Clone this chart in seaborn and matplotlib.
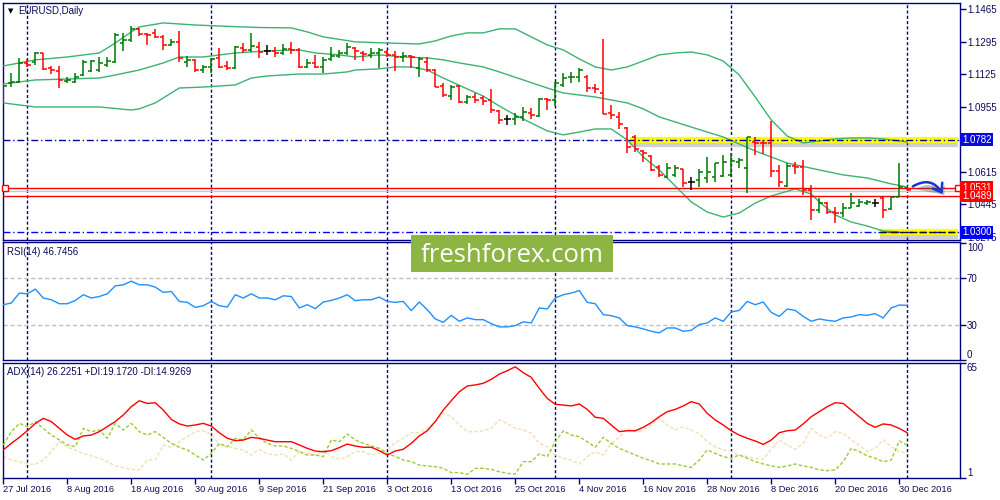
import numpy as np
import matplotlib
matplotlib.use('Agg')
import matplotlib.pyplot as plt
import matplotlib.transforms as mtransforms
import matplotlib.patheffects as pe
from matplotlib.patches import FancyArrowPatch, Rectangle
import seaborn as sns

# --- daily EURUSD bars ---
opens = [1.0991, 1.1081, 1.1086, 1.1182, 1.1191, 1.1234, 1.1156, 1.1144, 1.1090, 1.1086,
         1.1121, 1.1144, 1.1147, 1.1173, 1.1191, 1.1290, 1.1304, 1.1360, 1.1335, 1.1339,
         1.1321, 1.1278, 1.1295, 1.1191, 1.1200, 1.1147, 1.1165, 1.1212, 1.1168, 1.1156,
         1.1260, 1.1252, 1.1269, 1.1247, 1.1247, 1.1234, 1.1255, 1.1252, 1.1165, 1.1186,
         1.1165, 1.1203, 1.1220, 1.1234, 1.1260, 1.1238, 1.1226, 1.1234, 1.1243, 1.1226,
         1.1217, 1.1220, 1.1156, 1.1191, 1.1147, 1.1064, 1.1011, 1.1064, 1.0982, 1.1008,
         1.0999, 1.0991, 1.0935, 1.0890, 1.0890, 1.0903, 1.0921, 1.0907, 1.0994, 1.0991,
         1.1069, 1.1109, 1.1109, 1.1112, 1.1051, 1.1025, 1.0921, 1.0903, 1.0843, 1.0799,
         1.0726, 1.0698, 1.0642, 1.0590, 1.0599, 1.0628, 1.0564, 1.0573, 1.0581, 1.0590,
         1.0593, 1.0599, 1.0668, 1.0633, 1.0773, 1.0768, 1.0768, 1.0621, 1.0541, 1.0646,
         1.0642, 1.0520, 1.0416, 1.0451, 1.0407, 1.0399, 1.0424, 1.0437, 1.0454, 1.0454,
         1.0477, 1.0419, 1.0485, 1.0529]
highs = [1.1069, 1.1130, 1.1208, 1.1203, 1.1243, 1.1238, 1.1168, 1.1170, 1.1112, 1.1130,
         1.1200, 1.1200, 1.1217, 1.1213, 1.1339, 1.1339, 1.1377, 1.1365, 1.1342, 1.1362,
         1.1330, 1.1308, 1.1351, 1.1220, 1.1203, 1.1173, 1.1208, 1.1260, 1.1194, 1.1273,
         1.1287, 1.1342, 1.1295, 1.1278, 1.1269, 1.1283, 1.1292, 1.1260, 1.1203, 1.1226,
         1.1213, 1.1266, 1.1252, 1.1290, 1.1269, 1.1248, 1.1260, 1.1260, 1.1252, 1.1248,
         1.1243, 1.1226, 1.1213, 1.1213, 1.1151, 1.1081, 1.1069, 1.1069, 1.1017, 1.1029,
         1.1011, 1.1046, 1.0938, 1.0912, 1.0921, 1.0952, 1.0947, 1.0999, 1.0999, 1.1086,
         1.1133, 1.1139, 1.1156, 1.1121, 1.1074, 1.1309, 1.0964, 1.0930, 1.0851, 1.0808,
         1.0729, 1.0703, 1.0651, 1.0660, 1.0651, 1.0628, 1.0586, 1.0628, 1.0691, 1.0660,
         1.0703, 1.0712, 1.0686, 1.0799, 1.0799, 1.0781, 1.0883, 1.0651, 1.0660, 1.0668,
         1.0677, 1.0546, 1.0477, 1.0459, 1.0433, 1.0451, 1.0503, 1.0471, 1.0468, 1.0471,
         1.0485, 1.0485, 1.0663, 1.0534]
lows = [1.0970, 1.1060, 1.1081, 1.1165, 1.1173, 1.1147, 1.1126, 1.1051, 1.1078, 1.1078,
        1.1118, 1.1139, 1.1139, 1.1165, 1.1186, 1.1248, 1.1295, 1.1325, 1.1278, 1.1313,
        1.1252, 1.1273, 1.1191, 1.1165, 1.1139, 1.1133, 1.1133, 1.1156, 1.1147, 1.1151,
        1.1238, 1.1243, 1.1208, 1.1226, 1.1213, 1.1226, 1.1231, 1.1156, 1.1156, 1.1156,
        1.1130, 1.1196, 1.1208, 1.1226, 1.1200, 1.1196, 1.1208, 1.1156, 1.1217, 1.1144,
        1.1191, 1.1156, 1.1112, 1.1139, 1.1057, 1.1008, 1.0991, 1.0977, 1.0970, 1.0977,
        1.0964, 1.0921, 1.0865, 1.0860, 1.0860, 1.0883, 1.0890, 1.0903, 1.0938, 1.0959,
        1.1057, 1.1081, 1.1086, 1.1034, 1.1025, 1.0915, 1.0890, 1.0837, 1.0712, 1.0721,
        1.0668, 1.0621, 1.0590, 1.0581, 1.0586, 1.0534, 1.0520, 1.0534, 1.0559, 1.0564,
        1.0586, 1.0590, 1.0633, 1.0506, 1.0703, 1.0708, 1.0586, 1.0538, 1.0534, 1.0604,
        1.0494, 1.0363, 1.0398, 1.0395, 1.0350, 1.0381, 1.0424, 1.0433, 1.0442, 1.0433,
        1.0372, 1.0416, 1.0485, 1.0520]
closes = [1.1064, 1.1086, 1.1182, 1.1173, 1.1234, 1.1151, 1.1147, 1.1095, 1.1095, 1.1109,
          1.1191, 1.1194, 1.1182, 1.1194, 1.1330, 1.1304, 1.1360, 1.1335, 1.1330, 1.1321,
          1.1278, 1.1295, 1.1208, 1.1200, 1.1147, 1.1165, 1.1203, 1.1165, 1.1156, 1.1266,
          1.1252, 1.1273, 1.1243, 1.1247, 1.1234, 1.1255, 1.1252, 1.1165, 1.1186, 1.1165,
          1.1200, 1.1220, 1.1234, 1.1269, 1.1248, 1.1231, 1.1234, 1.1252, 1.1226, 1.1213,
          1.1220, 1.1213, 1.1203, 1.1147, 1.1060, 1.1017, 1.1057, 1.0982, 1.1004, 1.0991,
          1.0987, 1.0938, 1.0886, 1.0890, 1.0900, 1.0930, 1.0912, 1.0994, 1.0991, 1.1078,
          1.1104, 1.1112, 1.1147, 1.1051, 1.1046, 1.0917, 1.0912, 1.0865, 1.0747, 1.0733,
          1.0716, 1.0625, 1.0599, 1.0633, 1.0633, 1.0555, 1.0564, 1.0616, 1.0616, 1.0660,
          1.0668, 1.0672, 1.0677, 1.0795, 1.0764, 1.0764, 1.0621, 1.0564, 1.0646, 1.0642,
          1.0520, 1.0416, 1.0451, 1.0407, 1.0399, 1.0424, 1.0451, 1.0459, 1.0459, 1.0454,
          1.0416, 1.0482, 1.0534, 1.0520]

# --- Bollinger bands, read at sampled bars ---
upper_idx = [0, 4, 8, 12, 14, 16, 17, 20, 24, 28, 32, 36, 38, 40, 44, 48, 52, 54, 56, 58,
             60, 62, 64, 66, 68, 70, 72, 74, 76, 78, 80, 82, 84, 86, 88, 90, 92, 94, 96, 98,
             100, 102, 104, 106, 108, 110, 112, 113]
upper = [1.1168, 1.1200, 1.1215, 1.1236, 1.1288, 1.1346, 1.1372, 1.1393, 1.1382, 1.1375,
         1.1369, 1.1367, 1.1346, 1.1320, 1.1294, 1.1288, 1.1283, 1.1299, 1.1325, 1.1341,
         1.1341, 1.1362, 1.1362, 1.1320, 1.1278, 1.1252, 1.1205, 1.1163, 1.1147, 1.1163,
         1.1194, 1.1226, 1.1236, 1.1241, 1.1226, 1.1194, 1.1121, 1.1006, 1.0886, 1.0802,
         1.0766, 1.0776, 1.0787, 1.0792, 1.0792, 1.0787, 1.0776, 1.0771]
mid_idx = [0, 4, 8, 12, 14, 17, 20, 22, 25, 29, 33, 37, 39, 42, 44, 47, 50, 53, 55, 57,
           60, 62, 65, 68, 70, 74, 78, 80, 82, 86, 90, 94, 98, 102, 105, 108, 111, 113]
middle = [1.1074, 1.1095, 1.1100, 1.1105, 1.1121, 1.1147, 1.1184, 1.1215, 1.1215, 1.1236,
          1.1247, 1.1252, 1.1236, 1.1226, 1.1215, 1.1226, 1.1215, 1.1210, 1.1200, 1.1184,
          1.1163, 1.1137, 1.1095, 1.1053, 1.1027, 1.1006, 1.0975, 1.0944, 1.0902, 1.0849,
          1.0797, 1.0724, 1.0661, 1.0625, 1.0599, 1.0583, 1.0552, 1.0536]
low_idx = [0, 4, 8, 12, 16, 17, 19, 21, 22, 25, 29, 31, 33, 37, 40, 43, 44, 47, 49, 51,
           53, 55, 58, 60, 62, 64, 66, 68, 70, 72, 74, 76, 78, 80, 82, 84, 86, 88, 90, 92,
           94, 96, 99, 101, 102, 104, 106, 108, 110, 112]
lower = [1.0975, 1.0954, 1.0954, 1.0954, 1.0938, 1.0944, 1.0975, 1.1027, 1.1053, 1.1058,
         1.1069, 1.1105, 1.1116, 1.1126, 1.1126, 1.1137, 1.1147, 1.1153, 1.1163, 1.1163,
         1.1147, 1.1105, 1.1048, 1.1011, 1.0959, 1.0912, 1.0870, 1.0829, 1.0808, 1.0823,
         1.0839, 1.0839, 1.0782, 1.0693, 1.0625, 1.0541, 1.0458, 1.0405, 1.0379, 1.0400,
         1.0452, 1.0489, 1.0526, 1.0499, 1.0458, 1.0390, 1.0353, 1.0332, 1.0306, 1.0301]

# --- RSI(14) ---
rsi = [47.3, 48.7, 57.2, 56.6, 60.6, 53.0, 51.5, 48.1, 48.1, 50.9, 55.8, 53.0, 54.3, 56.6,
       63.4, 64.3, 67.4, 64.3, 64.3, 62.3, 57.8, 58.6, 50.1, 49.3, 45.0, 46.4, 50.1, 46.4,
       45.3, 55.8, 53.0, 56.6, 53.0, 53.0, 51.5, 54.9, 54.3, 44.5, 47.3, 43.9, 49.6, 50.9,
       53.0, 55.8, 50.7, 51.5, 51.5, 53.8, 50.1, 49.3, 50.1, 42.2, 49.6, 43.0, 35.1, 32.2,
       38.2, 33.1, 36.0, 34.5, 34.5, 31.1, 28.3, 28.3, 29.4, 32.6, 31.7, 44.5, 43.6, 53.0,
       55.8, 57.2, 59.4, 49.3, 48.1, 38.8, 37.9, 36.0, 29.4, 28.3, 26.6, 24.6, 23.2, 27.4,
       27.4, 24.6, 25.4, 30.3, 31.7, 36.0, 33.1, 41.1, 42.4, 50.1, 47.3, 49.6, 40.7, 37.3,
       43.6, 42.4, 37.3, 33.1, 35.1, 33.9, 33.1, 36.0, 36.8, 38.8, 38.2, 39.6, 36.0, 44.5,
       47.0, 46.7]

# --- ADX(14), +DI, -DI ---
adx = [16.6, 20.3, 23.6, 27.3, 31.4, 34.2, 32.4, 28.6, 24.9, 22.5, 24.4, 24.9, 26.8, 29.6,
       32.4, 36.1, 40.7, 44.0, 42.5, 42.9, 38.8, 33.6, 31.1, 29.9, 30.5, 31.4, 29.9, 26.2,
       23.1, 21.8, 22.1, 23.6, 23.1, 22.1, 21.2, 21.2, 21.2, 19.4, 17.5, 16.0, 15.6, 16.2,
       17.9, 19.9, 18.8, 18.1, 18.1, 16.2, 13.8, 16.0, 17.0, 20.3, 24.4, 27.3, 32.4, 38.8,
       44.0, 49.0, 52.2, 52.8, 53.7, 55.9, 58.8, 60.7, 62.9, 59.6, 57.0, 50.9, 45.3, 42.0,
       41.6, 41.1, 42.2, 39.2, 34.8, 34.2, 30.5, 26.8, 27.3, 27.3, 29.2, 31.8, 35.1, 37.9,
       39.2, 41.1, 43.5, 42.2, 37.0, 33.3, 30.5, 27.3, 24.9, 23.1, 21.6, 19.7, 22.1, 26.2,
       27.3, 27.7, 31.1, 35.1, 37.9, 40.7, 42.9, 42.5, 38.8, 35.1, 31.4, 29.2, 31.1, 30.5,
       28.6, 26.2]
plus_di = [19.4, 26.8, 31.4, 29.6, 32.3, 28.6, 24.9, 22.2, 19.4, 18.4, 28.6, 26.8, 27.7,
           23.1, 31.4, 27.7, 31.4, 26.8, 24.9, 26.8, 23.6, 20.3, 18.1, 16.6, 13.8, 11.0,
           14.7, 20.3, 18.4, 23.1, 22.2, 27.7, 23.1, 20.3, 18.8, 18.8, 17.5, 15.7, 13.8,
           13.8, 12.9, 22.2, 21.2, 25.5, 22.2, 20.3, 18.8, 17.5, 14.7, 12.9, 11.0, 10.1, 8.2,
           7.7, 7.3, 6.4, 4.0, 4.0, 3.0, 6.4, 6.4, 5.8, 4.5, 3.6, 3.2, 10.1, 10.1, 14.4, 12.9,
           21.2, 27.3, 24.9, 24.0, 21.2, 18.1, 23.6, 20.3, 17.5, 15.7, 13.8, 12.0, 10.6, 8.8,
           8.8, 8.8, 7.7, 6.9, 11.0, 16.6, 14.7, 12.9, 12.0, 13.8, 12.0, 10.1, 8.8, 7.7, 6.9,
           7.7, 8.8, 7.7, 6.9, 5.5, 5.1, 5.5, 10.1, 17.5, 15.7, 13.3, 12.0, 10.1, 11.0, 21.6,
           19.2]
minus_di = [12.9, 11.0, 10.1, 8.8, 8.6, 11.0, 15.7, 21.2, 18.1, 16.6, 14.7, 13.3, 12.0,
            10.1, 7.7, 6.9, 5.8, 5.5, 11.0, 11.4, 19.4, 18.1, 21.2, 24.0, 26.8, 27.3, 25.5,
            19.4, 18.4, 17.5, 16.6, 13.8, 16.9, 14.4, 13.8, 14.4, 11.0, 15.7, 14.7, 13.8,
            16.6, 12.9, 11.4, 12.9, 15.7, 15.7, 13.8, 14.7, 16.6, 20.7, 23.1, 26.2, 26.2,
            28.6, 32.4, 37.0, 35.1, 30.5, 26.8, 26.8, 27.2, 28.6, 33.3, 31.4, 28.6, 27.7,
            25.9, 20.3, 18.4, 13.8, 12.0, 11.0, 8.8, 12.9, 15.7, 13.8, 20.3, 23.6, 28.6, 26.8,
            27.7, 30.5, 34.2, 30.5, 27.7, 29.6, 27.7, 25.5, 21.2, 18.4, 16.6, 15.7, 13.8,
            12.9, 12.0, 11.4, 16.9, 22.2, 19.4, 16.9, 20.3, 28.6, 24.9, 23.1, 26.8, 25.9,
            22.2, 19.4, 15.7, 17.5, 22.2, 18.4, 15.7, 14.9]

month_starts = [3, 26, 48, 69, 91, 113]
date_ticks = [0, 8, 16, 24, 32, 40, 48, 56, 64, 72, 80, 88, 96, 104, 112]
date_labels = ['27 Jul 2016', '8 Aug 2016', '18 Aug 2016', '30 Aug 2016', '9 Sep 2016',
               '21 Sep 2016', '3 Oct 2016', '13 Oct 2016', '25 Oct 2016', '4 Nov 2016',
               '16 Nov 2016', '28 Nov 2016', '8 Dec 2016', '20 Dec 2016', '30 Dec 2016']
price_ticks = [1.1465, 1.1295, 1.1125, 1.0955, 1.0785, 1.0615, 1.0445, 1.0275]
# 1.0785 sits under the 1.0782 marker box, so its text is not shown
price_tick_labels = ['1.1465', '1.1295', '1.1125', '1.0955', '', '1.0615', '1.0445', '1.0275']
marker_levels = [1.0782, 1.0531, 1.0489, 1.0300]

NAVY = '#000080'
TXT = '#0c0c58'
BULL = '#007800'
BEAR = '#ff0000'
BAND = '#3cb371'

sns.set_theme(style='white')
plt.rcParams['font.family'] = ['Liberation Sans', 'DejaVu Sans']

W, H = 1000, 500


def px_box(x0, y0, x1, y1):
    return [x0 / W, 1 - y1 / H, (x1 - x0) / W, (y1 - y0) / H]


fig = plt.figure(figsize=(10, 5), dpi=100)
fig.patch.set_facecolor('white')
ax_p = fig.add_axes(px_box(3, 3, 960, 240))
ax_r = fig.add_axes(px_box(3, 242, 960, 360))
ax_a = fig.add_axes(px_box(3, 363, 960, 478))

for ax in (ax_p, ax_r, ax_a):
    ax.set_facecolor('white')
    ax.set_xlim(-0.04, 119.6)
    for s in ax.spines.values():
        s.set_color(NAVY)
        s.set_linewidth(1.0)
    ax.yaxis.tick_right()
    ax.tick_params(axis='y', which='both', direction='out', length=4, width=1,
                   color=NAVY, labelcolor=TXT, labelsize=7, pad=1, left=False, right=True)
    ax.tick_params(axis='x', bottom=False, labelbottom=False)
    ax.grid(False)
    for m in month_starts:
        ax.axvline(m, color=NAVY, lw=1.0, ls=(0, (2.2, 1.6)), zorder=1)

# ---------------- price panel ----------------
bars = np.arange(len(closes))
o = np.array(opens)
c = np.array(closes)
cols = np.where(c > o, BULL, np.where(c < o, BEAR, 'black'))
ax_p.vlines(bars, lows, highs, colors=cols, lw=1.1, zorder=4)
ax_p.hlines(opens, bars - 0.42, bars, colors=cols, lw=1.1, zorder=4)
ax_p.hlines(closes, bars, bars + 0.42, colors=cols, lw=1.1, zorder=4)

for xs, ys in ((upper_idx, upper), (mid_idx, middle), (low_idx, lower)):
    sns.lineplot(x=xs, y=ys, ax=ax_p, color=BAND, lw=1.0, legend=False, zorder=3)

ax_p.set_ylim(1.0259, 1.1497)
ax_p.set_yticks(price_ticks)
ax_p.set_yticklabels(price_tick_labels)
ax_p.set_xlabel('')
ax_p.set_ylabel('')

# horizontal levels
shadow = [pe.SimpleLineShadow(offset=(0, -3), shadow_color='#666666', alpha=0.3), pe.Normal()]
ax_p.hlines(1.0782, 78.3, 119.4, color='#ffff00', lw=4.5, zorder=2, path_effects=shadow)
ax_p.hlines(1.0300, 109.6, 119.4, color='#ffff00', lw=4.5, zorder=2, path_effects=shadow)
ax_p.axhline(1.0782, color='#0000a0', lw=1.0, ls=(0, (5, 2, 1, 2)), zorder=3)
ax_p.axhline(1.0300, color='#0000ff', lw=1.0, ls=(0, (5, 2, 1, 2)), zorder=3)
ax_p.hlines(1.0300, 109.6, 119.4, color='#101010', lw=1.0, ls=(0, (5, 2)), zorder=3)
ax_p.axhline(1.0531, color='#ff0000', lw=1.0, zorder=3)
ax_p.axhline(1.0517, color='#c8c8c8', lw=1.0, zorder=2)
ax_p.axhline(1.0489, color='#ff0000', lw=1.0, zorder=3)
ax_p.plot([0.2, 119.3], [1.0531, 1.0531], ls='none', marker='s', ms=4, mfc='white',
          mec='#ff0000', mew=1.0, clip_on=False, zorder=6)

# hand drawn arrow
arrow = FancyArrowPatch((113.4, 1.0531), (117.6, 1.0487), transform=ax_p.transData,
                        connectionstyle='arc3,rad=-0.55',
                        arrowstyle='->,head_length=0.55,head_width=0.4', mutation_scale=10,
                        color='#1a35d6', lw=1.8, zorder=8,
                        path_effects=[pe.SimplePatchShadow(offset=(2, -2), alpha=0.35), pe.Normal()])
ax_p.add_patch(arrow)

# price label boxes on the right scale
tr = mtransforms.blended_transform_factory(ax_p.transAxes, ax_p.transData)
box_colors = ['#0a0ae0', '#ff0000', '#ff0000', '#0000ff']
for val, fc in zip(marker_levels, box_colors):
    ax_p.text(1.002, val, f'{val:.4f}', transform=tr, ha='left', va='center', fontsize=7,
              color='white', clip_on=False, zorder=10,
              bbox=dict(boxstyle='square,pad=0.15', fc=fc, ec='none'))

# ---------------- RSI panel ----------------
sns.lineplot(x=bars, y=rsi, ax=ax_r, color='#1e90ff', lw=1.0, legend=False, zorder=3)
for lvl in (70, 30):
    ax_r.axhline(lvl, color='#c0c0c0', lw=1.0, ls=(0, (3, 2)), zorder=2)
ax_r.set_ylim(0.47, 100.9)
ax_r.set_yticks([0, 30, 70, 100])
rl = ax_r.set_yticklabels(['0', '30', '70', '100'])
rl[0].set_va('bottom')
rl[3].set_va('top')
ax_r.set_xlabel('')
ax_r.set_ylabel('')

# ---------------- ADX panel ----------------
sns.lineplot(x=bars, y=minus_di, ax=ax_a, color='#f5deb3', lw=1.0, ls=(0, (2.5, 1.5)),
             legend=False, zorder=2)
sns.lineplot(x=bars, y=plus_di, ax=ax_a, color='#9acd32', lw=1.0, ls=(0, (2.5, 1.5)),
             legend=False, zorder=3)
sns.lineplot(x=bars, y=adx, ax=ax_a, color='#ff0000', lw=1.0, legend=False, zorder=4)
ax_a.set_ylim(1, 65)
ax_a.set_yticks([1, 65])
al = ax_a.set_yticklabels(['1', '65'])
al[0].set_va('bottom')
al[1].set_va('top')
ax_a.set_ylabel('')
ax_a.set_xlim(-0.04, 119.6)
ax_a.set_xticks(date_ticks)
ax_a.set_xticklabels(date_labels, ha='left')
ax_a.tick_params(axis='x', bottom=True, labelbottom=True, direction='out', length=4, width=1,
                 color=NAVY, labelcolor=TXT, labelsize=6.7, pad=1)
ax_a.set_xlabel('')

# ---------------- texts ----------------
fig.text(8 / W, 1 - 11 / H, '\u25bc', fontsize=5, color='black', va='center',
         family=['DejaVu Sans'])
fig.text(18 / W, 1 - 11 / H, 'EURUSD,Daily', fontsize=7, color=TXT, va='center')
fig.text(7 / W, 1 - 252 / H, 'RSI(14) 46.7456', fontsize=7, color=TXT, va='center')
fig.text(7 / W, 1 - 372 / H, 'ADX(14) 26.2251 +DI:19.1720 -DI:14.9269', fontsize=7,
         color=TXT, va='center')

# watermark
fig.patches.append(Rectangle((411 / W, 1 - 272 / H), 202 / W, 37 / H, transform=fig.transFigure,
                             fc='#8db543', ec='none', zorder=20))
fig.text(512 / W, 1 - 262 / H, 'freshforex.com', fontsize=18.5, color='white', ha='center',
         va='baseline', family=['Open Sans', 'DejaVu Sans'], zorder=21)

fig.savefig('out.png', dpi=100, facecolor='white')
